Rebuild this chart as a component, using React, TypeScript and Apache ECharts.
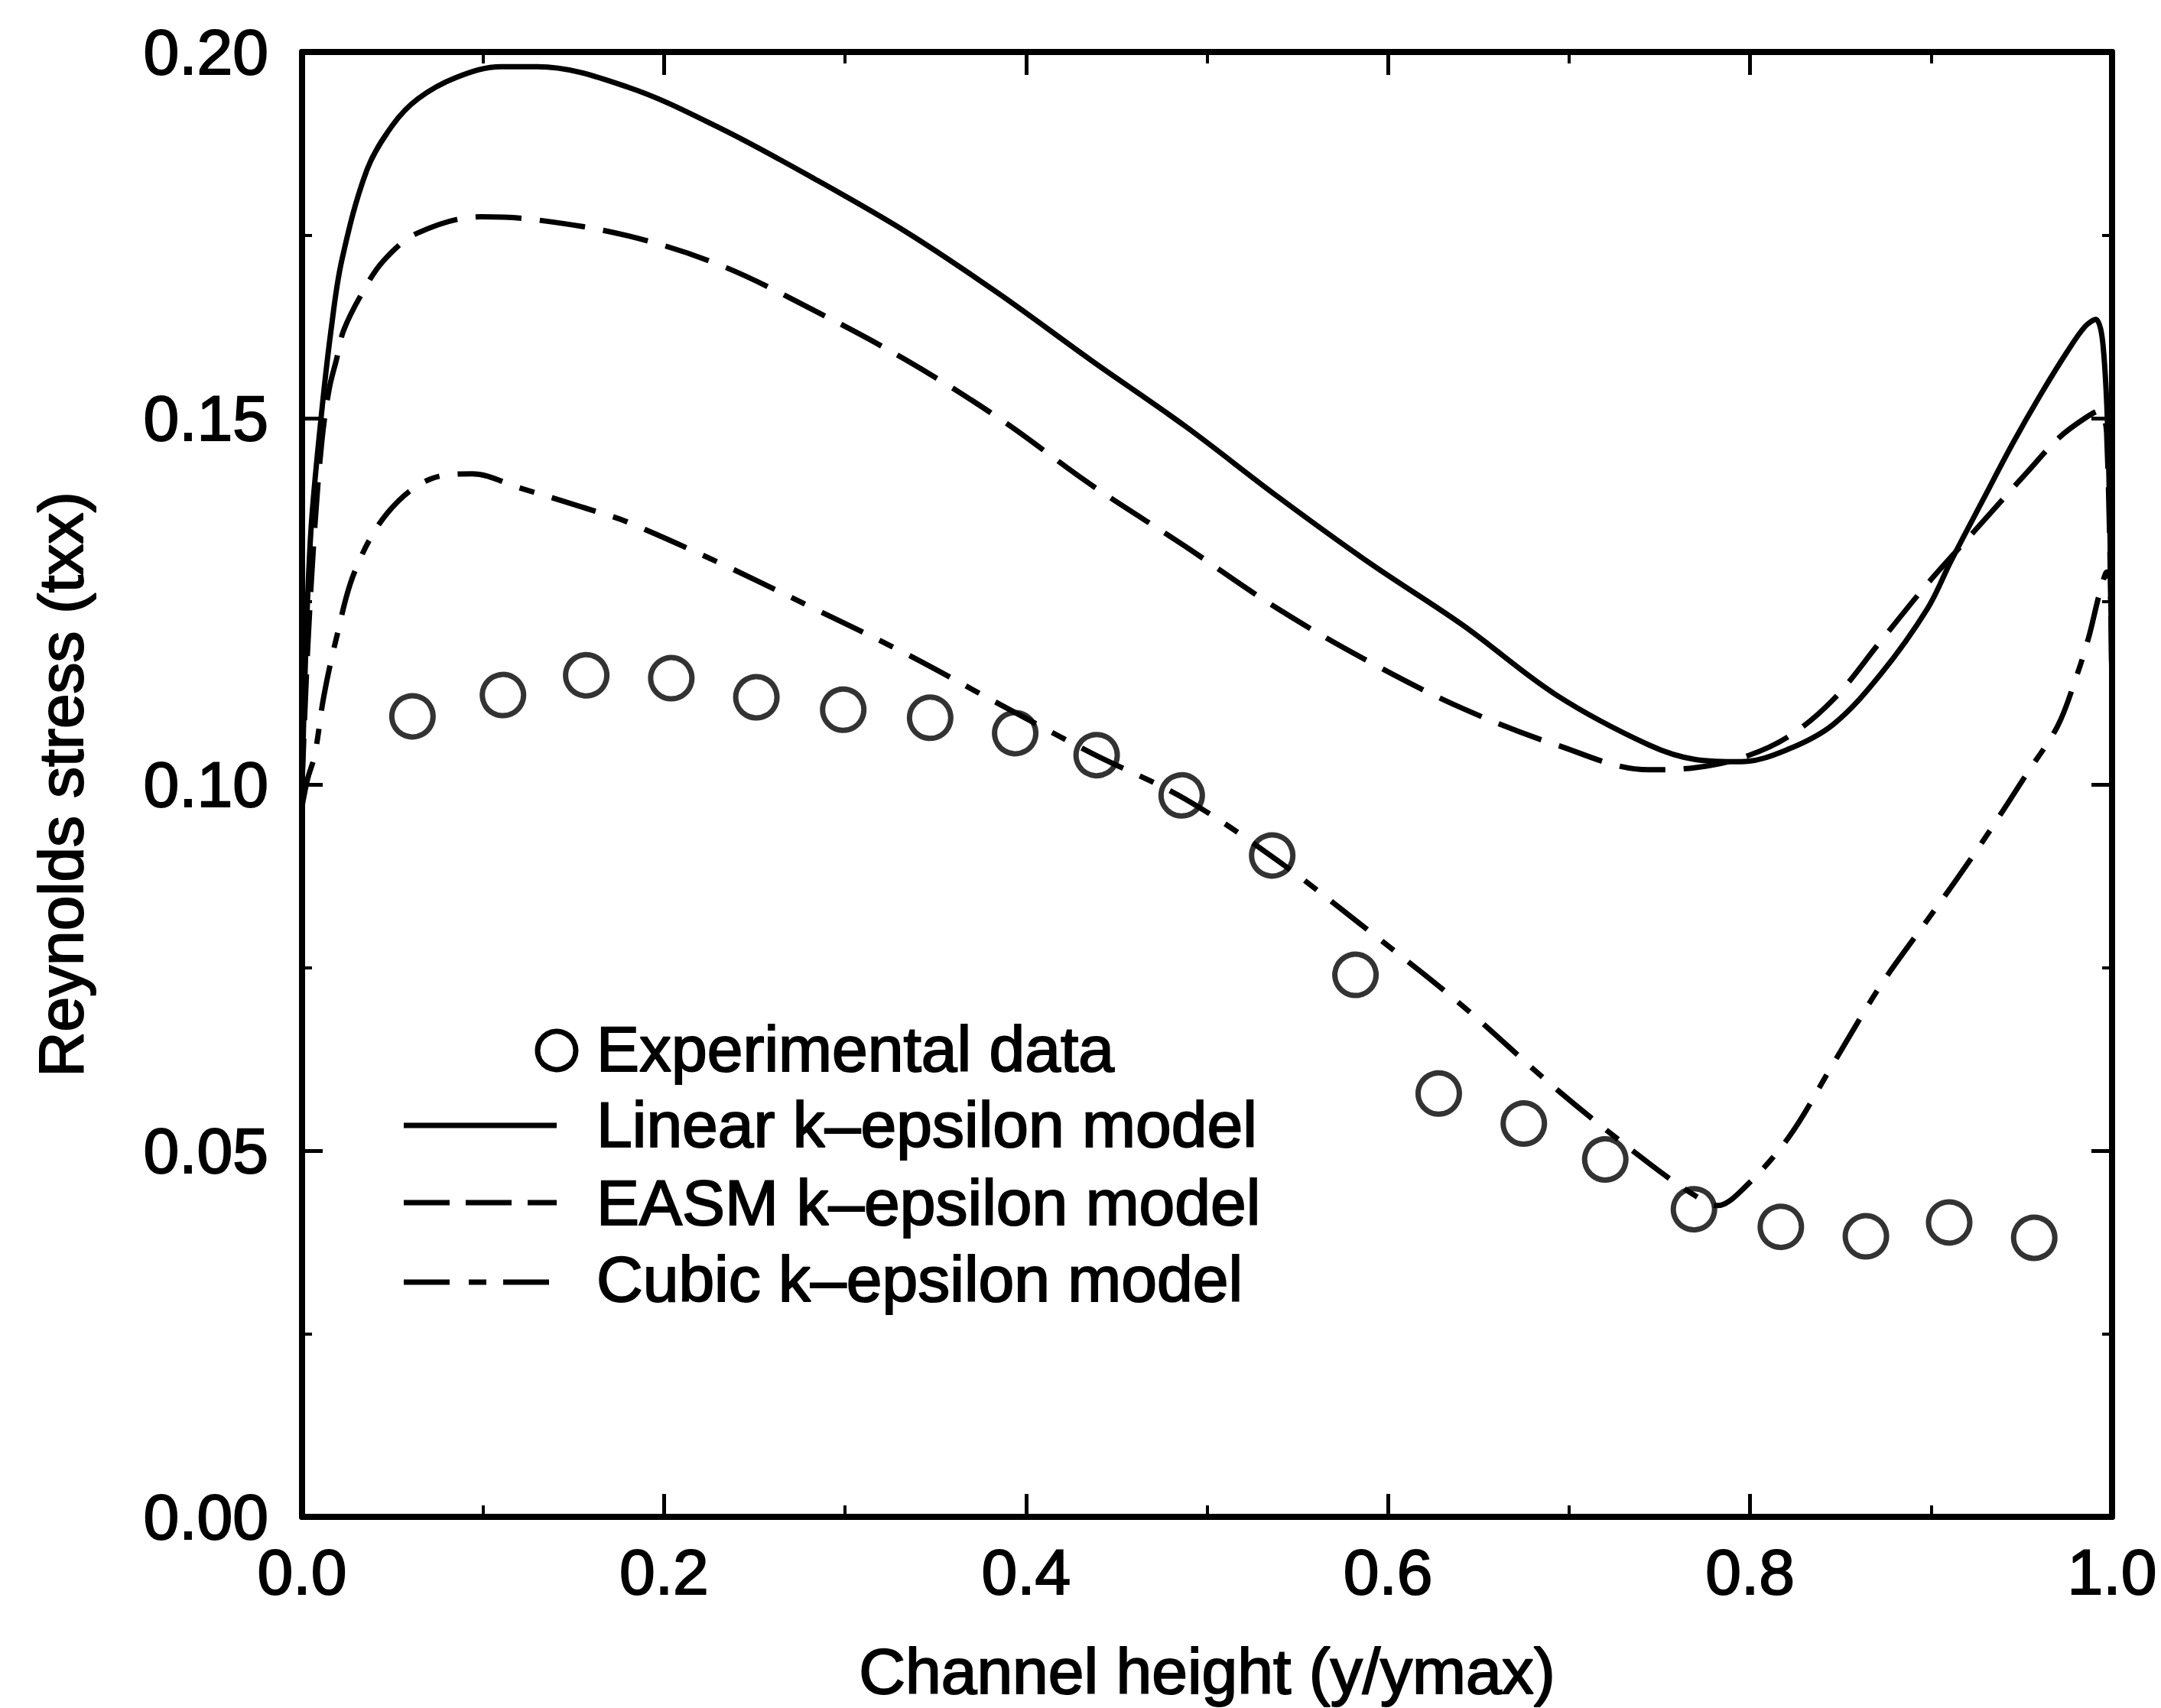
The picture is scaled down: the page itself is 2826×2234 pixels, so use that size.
import React, { useEffect, useRef } from "react";
import * as echarts from "echarts";

// ---- Data ----
const expX = [0.061, 0.111, 0.157, 0.204, 0.251, 0.299, 0.347, 0.394, 0.439, 0.486, 0.536, 0.582, 0.628, 0.675, 0.720, 0.769, 0.817, 0.864, 0.910, 0.957];
const expY = [0.1093, 0.1122, 0.1149, 0.1145, 0.1119, 0.1102, 0.1091, 0.1070, 0.1040, 0.0985, 0.0903, 0.0740, 0.0578, 0.0537, 0.0488, 0.0420, 0.0396, 0.0383, 0.0402, 0.0381];

const linearX = [0, 0.002, 0.005, 0.0105, 0.016, 0.022, 0.036, 0.05, 0.064, 0.085, 0.11, 0.13, 0.18, 0.231, 0.283, 0.334, 0.385, 0.436, 0.488, 0.539, 0.590, 0.641, 0.693, 0.744, 0.770, 0.795, 0.821, 0.846, 0.872, 0.898, 0.911, 0.929, 0.945, 0.96, 0.975, 0.985, 0.991, 0.995, 0.998, 1.0];
const linearY = [0.10, 0.118, 0.135, 0.150, 0.162, 0.1716, 0.184, 0.190, 0.1936, 0.1965, 0.198, 0.198, 0.1952, 0.1896, 0.1827, 0.1754, 0.1670, 0.1579, 0.1489, 0.1393, 0.1302, 0.1218, 0.1122, 0.1054, 0.1034, 0.1031, 0.1048, 0.1082, 0.1150, 0.124, 0.1305, 0.139, 0.1465, 0.153, 0.159, 0.1625, 0.1635, 0.160, 0.145, 0.11];

const easmX = [0, 0.003, 0.007, 0.011, 0.015, 0.019, 0.023, 0.033, 0.045, 0.064, 0.099, 0.129, 0.180, 0.231, 0.283, 0.334, 0.385, 0.436, 0.488, 0.539, 0.590, 0.641, 0.693, 0.744, 0.770, 0.795, 0.821, 0.846, 0.872, 0.898, 0.924, 0.953, 0.971, 0.985, 0.993, 0.997, 1.0];
const easmY = [0.10, 0.118, 0.135, 0.147, 0.154, 0.158, 0.162, 0.167, 0.1715, 0.1753, 0.1775, 0.1771, 0.1749, 0.1709, 0.1647, 0.1579, 0.1500, 0.1409, 0.1325, 0.1240, 0.1167, 0.1104, 0.1054, 0.1020, 0.1023, 0.1036, 0.1065, 0.1116, 0.1195, 0.1274, 0.1346, 0.1426, 0.1474, 0.1500, 0.151, 0.148, 0.11];

const cubicX = [0, 0.003, 0.007, 0.012, 0.019, 0.029, 0.047, 0.071, 0.094, 0.12, 0.162, 0.18, 0.231, 0.283, 0.334, 0.385, 0.436, 0.488, 0.539, 0.590, 0.641, 0.693, 0.744, 0.770, 0.782, 0.795, 0.821, 0.846, 0.872, 0.898, 0.914, 0.932, 0.953, 0.970, 0.980, 0.987, 0.993, 0.997, 1.0];
const cubicY = [0.097, 0.1007, 0.104, 0.112, 0.120, 0.129, 0.137, 0.1417, 0.1424, 0.1405, 0.1373, 0.1358, 0.1302, 0.1240, 0.1178, 0.1110, 0.1043, 0.0980, 0.0896, 0.0799, 0.0698, 0.0584, 0.0483, 0.0438, 0.0425, 0.0445, 0.0517, 0.0619, 0.0725, 0.0815, 0.087, 0.0935, 0.1015, 0.108, 0.1145, 0.120, 0.126, 0.129, 0.122];

const legendLabels = ["Experimental data", "Linear k\u2013epsilon model", "EASM k\u2013epsilon model", "Cubic k\u2013epsilon model"];
const xTitle = "Channel height (y/ymax)";
const yTitle = "Reynolds stress (txx)";

const FONT = "'Liberation Sans', Arial, Helvetica, sans-serif";

function zip(xs: number[], ys: number[]) {
  return xs.map((x, i) => [x, ys[i]]);
}

export default function App() {
  const ref = useRef<HTMLDivElement>(null);
  useEffect(() => {
    if (!ref.current) return;
    document.body.style.margin = "0";
    document.body.style.overflow = "hidden";
    const chart = echarts.init(ref.current, null, { renderer: "svg" });
    const tickCommon = {
      axisLine: { show: true, onZero: false, lineStyle: { color: "#000", width: 8 } },
      splitLine: { show: false },
    };
    const heavy = { textBorderColor: "#000", textBorderWidth: 2 };
    const lineW = 7;
    const legendText = (text: string, y: number) => ({
      type: "text", x: 780, y,
      style: { text, font: `84px ${FONT}`, fill: "#000", verticalAlign: "middle", align: "left", stroke: "#000", lineWidth: 2 },
    });
    const option: any = {
      animation: false,
      backgroundColor: "#fff",
      grid: { left: 395, right: 64, top: 68, bottom: 246, containLabel: false },
      xAxis: [
        {
          type: "value", min: 0, max: 1, interval: 0.2, position: "bottom",
          ...tickCommon,
          axisTick: { show: true, inside: true, length: 30, lineStyle: { color: "#000", width: 5 } },
          minorTick: { show: true, splitNumber: 2, length: 15, lineStyle: { color: "#000", width: 4 } },
          axisLabel: {
            show: true, margin: 30, color: "#000", fontSize: 84, fontFamily: FONT, ...heavy,
            formatter: (v: number) => v.toFixed(1),
          },
          name: xTitle, nameLocation: "middle", nameGap: 160,
          nameTextStyle: { color: "#000", fontSize: 84, fontFamily: FONT, ...heavy },
        },
        {
          type: "value", min: 0, max: 1, interval: 0.2, position: "top",
          ...tickCommon,
          axisTick: { show: true, inside: true, length: 30, lineStyle: { color: "#000", width: 5 } },
          minorTick: { show: true, splitNumber: 2, length: 15, lineStyle: { color: "#000", width: 4 } },
          axisLabel: { show: false },
        },
      ],
      yAxis: [
        {
          type: "value", min: 0, max: 0.2, interval: 0.05, position: "left",
          ...tickCommon,
          axisTick: { show: true, inside: true, length: 27, lineStyle: { color: "#000", width: 5 } },
          minorTick: { show: true, splitNumber: 2, length: 13, lineStyle: { color: "#000", width: 4 } },
          axisLabel: {
            show: true, margin: 44, color: "#000", fontSize: 84, fontFamily: FONT, ...heavy,
            formatter: (v: number) => v.toFixed(2),
          },
          name: yTitle, nameLocation: "middle", nameGap: 275, nameRotate: 90,
          nameTextStyle: { color: "#000", fontSize: 82, fontFamily: FONT, ...heavy },
        },
        {
          type: "value", min: 0, max: 0.2, interval: 0.05, position: "right",
          ...tickCommon,
          axisTick: { show: true, inside: true, length: 27, lineStyle: { color: "#000", width: 5 } },
          minorTick: { show: true, splitNumber: 2, length: 13, lineStyle: { color: "#000", width: 4 } },
          axisLabel: { show: false },
        },
      ],
      series: [
        {
          name: legendLabels[1], type: "line", data: zip(linearX, linearY),
          xAxisIndex: 0, yAxisIndex: 0, showSymbol: false, smooth: 0.35,
          lineStyle: { color: "#000", width: lineW, type: "solid" },
        },
        {
          name: legendLabels[2], type: "line", data: zip(easmX, easmY),
          xAxisIndex: 0, yAxisIndex: 0, showSymbol: false, smooth: 0.35,
          lineStyle: { color: "#000", width: lineW, type: [60, 24] },
        },
        {
          name: legendLabels[3], type: "line", data: zip(cubicX, cubicY),
          xAxisIndex: 0, yAxisIndex: 0, showSymbol: false, smooth: 0.35,
          lineStyle: { color: "#000", width: lineW, type: [60, 24, 20, 24] },
        },
        {
          name: legendLabels[0], type: "scatter", data: zip(expX, expY),
          xAxisIndex: 0, yAxisIndex: 0, symbol: "circle", symbolSize: 54,
          itemStyle: { color: "rgba(255,255,255,0)", borderColor: "#000", borderWidth: 7 },
          z: 5,
        },
      ],
      graphic: [
        { type: "circle", shape: { cx: 728, cy: 1374, r: 25 }, style: { fill: "none", stroke: "#000", lineWidth: 7 } },
        legendText(legendLabels[0], 1372),
        { type: "line", shape: { x1: 528, y1: 1472, x2: 728, y2: 1472 }, style: { stroke: "#000", lineWidth: lineW } },
        legendText(legendLabels[1], 1471),
        { type: "line", shape: { x1: 528, y1: 1573, x2: 728, y2: 1573 }, style: { stroke: "#000", lineWidth: lineW, lineDash: [60, 21] } },
        legendText(legendLabels[2], 1573),
        { type: "line", shape: { x1: 528, y1: 1677, x2: 718, y2: 1677 }, style: { stroke: "#000", lineWidth: lineW, lineDash: [60, 25, 23, 22] } },
        legendText(legendLabels[3], 1673),
      ],
    };
    chart.setOption(option);
    return () => chart.dispose();
  }, []);
  return (
    <div
      ref={ref}
      style={{ position: "absolute", left: 0, top: 0, width: 2826, height: 2234, overflow: "hidden", background: "#fff" }}
    />
  );
}
